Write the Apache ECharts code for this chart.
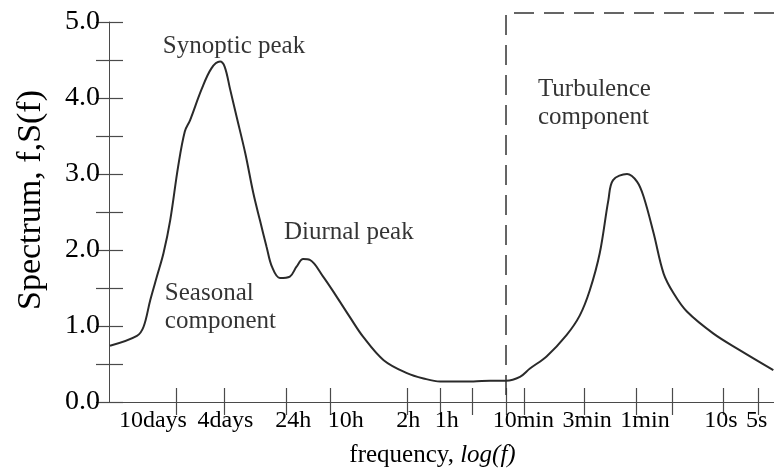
<!DOCTYPE html>
<html>
<head>
<meta charset="utf-8">
<script src="https://cdn.jsdelivr.net/npm/echarts@6/dist/echarts.min.js"></script>
<style>
html,body{margin:0;padding:0;background:#fff;}
#chart{width:774px;height:474px;}
</style>
</head>
<body>
<div id="chart"></div>
<script>
// x: position along the schematic log-frequency axis (0 = left edge, 100 = right edge)
const curveX = [0.15, 4.2, 5.2, 6.2, 7.2, 8.2, 9.2, 10.4, 11.4, 12.2, 13.9, 15.4, 16.7, 17.4, 18.2, 19.2, 20.5, 21.7, 22.7, 23.7, 24.5, 25.7, 27.2, 28.2, 29.2, 30.2, 32.2, 34.2, 36.2, 38.2, 41.3, 44.8, 47.3, 49.8, 54.8, 57.3, 59.7, 61.8, 63.3, 65.8, 68.8, 70.8, 72.3, 73.8, 75.1, 75.8, 77.9, 79.4, 80.4, 81.9, 83.4, 84.9, 86.9, 90.9, 94.9, 99.9];
const curveY = [0.74, 0.87, 0.99, 1.34, 1.65, 1.96, 2.39, 3.10, 3.56, 3.71, 4.11, 4.39, 4.48, 4.41, 4.12, 3.75, 3.27, 2.75, 2.39, 2.04, 1.78, 1.63, 1.65, 1.78, 1.88, 1.87, 1.65, 1.39, 1.12, 0.86, 0.55, 0.38, 0.31, 0.27, 0.27, 0.28, 0.28, 0.33, 0.44, 0.60, 0.88, 1.14, 1.47, 1.96, 2.66, 2.92, 3.00, 2.90, 2.70, 2.22, 1.69, 1.43, 1.19, 0.90, 0.68, 0.42];

const tickLabels = ['10days', '4days', '24h', '10h', '2h', '1h', '10min', '3min', '1min', '10s', '5s'];
const labelPos = [6.6, 17.5, 27.7, 35.6, 45.0, 50.8, 62.3, 71.9, 80.6, 92.0, 97.4];
const tickPos = [10.1, 17.3, 26.6, 33.2, 44.8, 49.8, 54.6, 59.7, 62.4, 71.4, 79.3, 84.7, 92.3, 97.6];

// spectral gap boundary (dashed bracket)
const gapX = 59.7;
const bracketTop = 5.12;
const xMax = 100;

const annotations = [
  { x: 8.1, y: 4.86, text: 'Synoptic peak' },
  { x: 26.3, y: 2.41, text: 'Diurnal peak' },
  { x: 8.4, y: 1.61, text: 'Seasonal\ncomponent' },
  { x: 64.5, y: 4.30, text: 'Turbulence\ncomponent' }
];

const serif = '"Liberation Serif", "Times New Roman", Times, serif';
const axisColor = '#4a4a4a';

const labelMap = {};
labelPos.forEach((p, i) => { labelMap[p] = tickLabels[i]; });

const chart = echarts.init(document.getElementById('chart'), null, { renderer: 'canvas' });

const option = {
  animation: false,
  backgroundColor: '#ffffff',
  grid: { left: 109, right: 0, top: 22, bottom: 72 },
  xAxis: [
    {
      type: 'value', position: 'bottom', min: 0, max: xMax,
      axisLine: { show: true, lineStyle: { color: axisColor, width: 1 } },
      axisTick: { show: true, inside: true, length: 14, customValues: tickPos, lineStyle: { color: axisColor, width: 1.2 } },
      axisLabel: {
        show: true, customValues: labelPos, margin: 7,
        fontFamily: serif, fontSize: 24, color: '#000',
        formatter: v => labelMap[v] || ''
      },
      splitLine: { show: false },
      name: 'frequency, {i|log(f)}',
      nameLocation: 'middle',
      nameGap: 41,
      nameTextStyle: {
        fontFamily: serif, fontSize: 25, color: '#000', padding: [0, 18, 0, 0],
        rich: { i: { fontFamily: serif, fontSize: 25, fontStyle: 'italic', color: '#000' } }
      }
    },
    {
      type: 'value', position: 'top', min: 0, max: xMax,
      axisLine: { show: true, lineStyle: { color: axisColor, width: 1 } },
      axisTick: { show: true, inside: true, length: 13, customValues: tickPos, lineStyle: { color: axisColor, width: 1.2 } },
      axisLabel: { show: false },
      splitLine: { show: false }
    }
  ],
  yAxis: [
    {
      type: 'value', position: 'left', min: 0, max: 5, interval: 0.5,
      axisLine: { show: true, lineStyle: { color: axisColor, width: 1 } },
      axisTick: { show: true, inside: true, length: 14, lineStyle: { color: axisColor, width: 1.2 } },
      axisLabel: {
        margin: 9, fontFamily: serif, fontSize: 28, color: '#000',
        formatter: v => (Math.abs(v - Math.round(v)) < 1e-9 ? v.toFixed(1) : '')
      },
      splitLine: { show: false },
      name: 'Spectrum, f,S(f)',
      nameLocation: 'middle',
      nameGap: 61,
      nameTextStyle: { fontFamily: serif, fontSize: 34, color: '#000', padding: [0, 0, 0, 24] }
    },
    {
      type: 'value', position: 'right', min: 0, max: 5, interval: 0.5,
      axisLine: { show: false },
      axisTick: { show: true, inside: true, length: 13, lineStyle: { color: axisColor, width: 1.2 } },
      axisLabel: { show: false },
      splitLine: { show: false }
    }
  ],
  series: [
    {
      type: 'line',
      data: curveX.map((x, i) => [x, curveY[i]]),
      smooth: 0.35,
      showSymbol: false,
      lineStyle: { color: '#2a2a2a', width: 2 },
      z: 3
    },
    {
      type: 'line',
      data: [[xMax, bracketTop], [gapX, bracketTop], [gapX, 0]],
      clip: false,
      showSymbol: false,
      lineStyle: { color: '#333', width: 1.5, type: [20, 10] },
      z: 2
    },
    {
      type: 'scatter',
      data: annotations.map(a => ({ value: [a.x, a.y], name: a.text })),
      symbolSize: 0,
      silent: true,
      label: {
        show: true,
        position: [0, 0],
        align: 'left',
        verticalAlign: 'top',
        formatter: p => p.name,
        fontFamily: serif,
        fontSize: 25,
        lineHeight: 28,
        color: '#000'
      },
      z: 4
    }
  ]
};

chart.setOption(option);
</script>
</body>
</html>
